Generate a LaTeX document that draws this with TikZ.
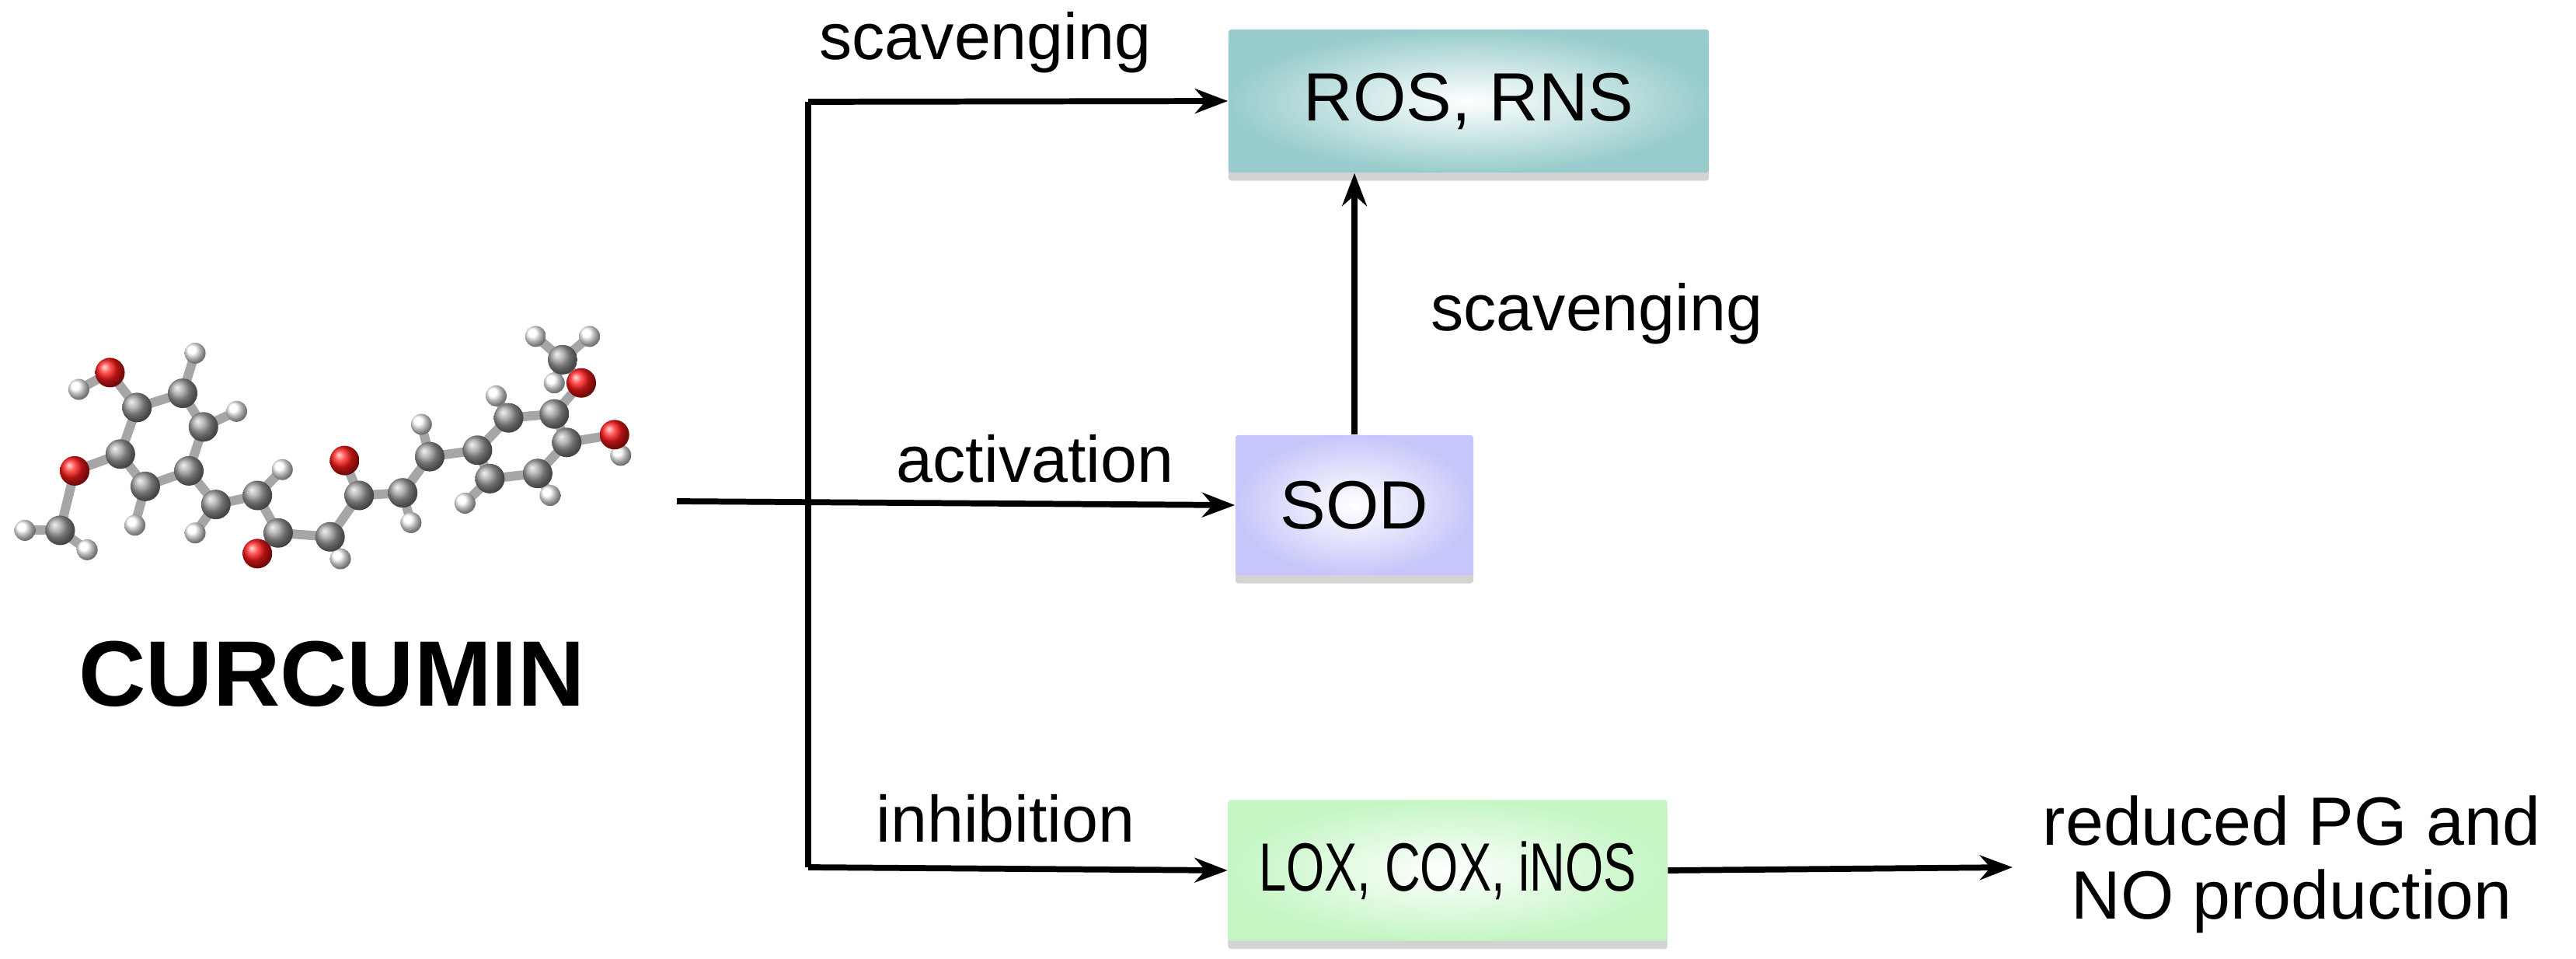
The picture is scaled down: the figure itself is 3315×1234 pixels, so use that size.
\documentclass[tikz,border=0pt]{standalone}
\usepackage{fontspec}
\setmainfont{Liberation Sans}
\usetikzlibrary{arrows.meta,shadows}
\definecolor{rosc}{RGB}{152,204,204}
\definecolor{sodc}{RGB}{198,198,250}
\definecolor{loxc}{RGB}{196,246,196}
\begin{document}
\begin{tikzpicture}[x=0.01cm,y=-0.01cm,
  box/.style={draw=none,minimum width=#1,rounded corners=1pt,drop shadow={shadow xshift=0pt,shadow yshift=-3pt,opacity=0.35},font=\fontsize{25}{30}\selectfont,text=black},
  lbl/.style={font=\fontsize{24}{29}\selectfont,inner sep=0pt},
  arr/.style={-{Stealth[length=12pt,width=9pt]},line width=2.2pt},
  ln/.style={line width=2.2pt},
  Cat/.style={circle,inner sep=0pt,minimum size=0.38cm,ball color=gray!75},
  Oat/.style={circle,inner sep=0pt,minimum size=0.38cm,ball color=red!90},
  Hat/.style={circle,inner sep=0pt,minimum size=0.27cm,ball color=white},
  bond/.style={line width=3.4pt,gray!70}]
\useasboundingbox (0,0) rectangle (3315,1234);
% boxes
\node[box=6.18cm, minimum height=1.84cm, inner color=white, outer color=rosc] (ros) at (1890,130) {ROS, RNS};
\node[box=3.06cm, minimum height=1.8cm, inner color=white, outer color=sodc] (sod) at (1743,650) {SOD};
\node[box=5.65cm, minimum height=1.81cm, inner color=white, outer color=loxc] (lox) at (1863,1120) {\addfontfeature{FakeStretch=0.72}LOX, COX, iNOS};
\node[lbl,align=center,font=\fontsize{25}{27}\selectfont] (red) at (2949,1112) {reduced PG and\\NO production};
\node[lbl,font=\fontsize{34}{40}\selectfont\bfseries] (cur) at (427,867) {CURCUMIN};
% connectors
\coordinate (start) at (871,645);
\coordinate (vtop) at (1040,131);
\coordinate (vbot) at (1040,1116);
\coordinate (redw) at (2590,1116);
\draw[ln] (vtop) -- (vbot);
\draw[arr] (start) -- (sod.west);
\draw[arr] (vtop) -- (ros.west);
\draw[arr] (vbot) -- (lox.west);
\draw[arr] (sod.north) -- (ros.south -| sod.north);
\draw[arr] (lox.east) -- (redw);
\node[lbl] (l1) at (1268,55) {scavenging};
\node[lbl] (l2) at (1332,590) {activation};
\node[lbl] (l3) at (1294,1053) {inhibition};
\node[lbl] (l4) at (2055,404) {scavenging};
% molecule
\begin{scope}[shift={(2.6,333)},x=0.005345cm,y=-0.003333cm]
\foreach \n/\p in {C1/{325,575},C2/{435,520},C3/{485,650},C4/{450,820},C5/{345,880},C6/{285,755},
C7/{515,950},C8/{615,915},C9/{665,1060},C10/{790,1075},C11/{860,915},C12/{965,905},C13/{1030,765},
C14/{1145,740},C15/{1220,615},C16/{1330,600},C17/{1360,710},C18/{1290,830},C19/{1175,850},
C20/{1350,390},C21/{140,1050},O1/{260,440},O2/{175,820},O3/{825,780},O4/{615,1140},O5/{1395,480},O6/{1475,680},
H1/{465,365},H2/{185,505},H3/{565,590},H4/{320,1030},H5/{465,1060},H6/{675,815},H7/{815,1160},H8/{1010,640},
H9/{985,1020},H10/{1190,530},H11/{1115,945},H12/{1320,915},H13/{1490,760},H14/{1285,300},H15/{1415,300},
H16/{1330,480},H17/{55,1050},H18/{205,1125}}
  \coordinate (\n) at (\p);
\foreach \a/\b in {C1/C2,C2/C3,C3/C4,C4/C5,C5/C6,C6/C1,C1/O1,O1/H2,C6/O2,O2/C21,C21/H17,C21/H18,C2/H1,C3/H3,C5/H4,
C4/C7,C7/C8,C8/C9,C9/O4,C9/C10,C10/C11,C11/O3,C11/C12,C12/C13,C13/C14,C7/H5,C8/H6,C10/H7,C13/H8,C12/H9,
C14/C15,C15/C16,C16/C17,C17/C18,C18/C19,C19/C14,C16/O5,O5/C20,C20/H14,C20/H15,C20/H16,C17/O6,O6/H13,C15/H10,C19/H11,C18/H12}
  \draw[bond] (\a) -- (\b);
\foreach \n in {1,...,18} \node[Hat] (h\n) at (H\n) {};
\foreach \n in {1,...,21} \node[Cat] (c\n) at (C\n) {};
\foreach \n in {1,...,6} \node[Oat] (o\n) at (O\n) {};
\end{scope}
\end{tikzpicture}
\end{document}
